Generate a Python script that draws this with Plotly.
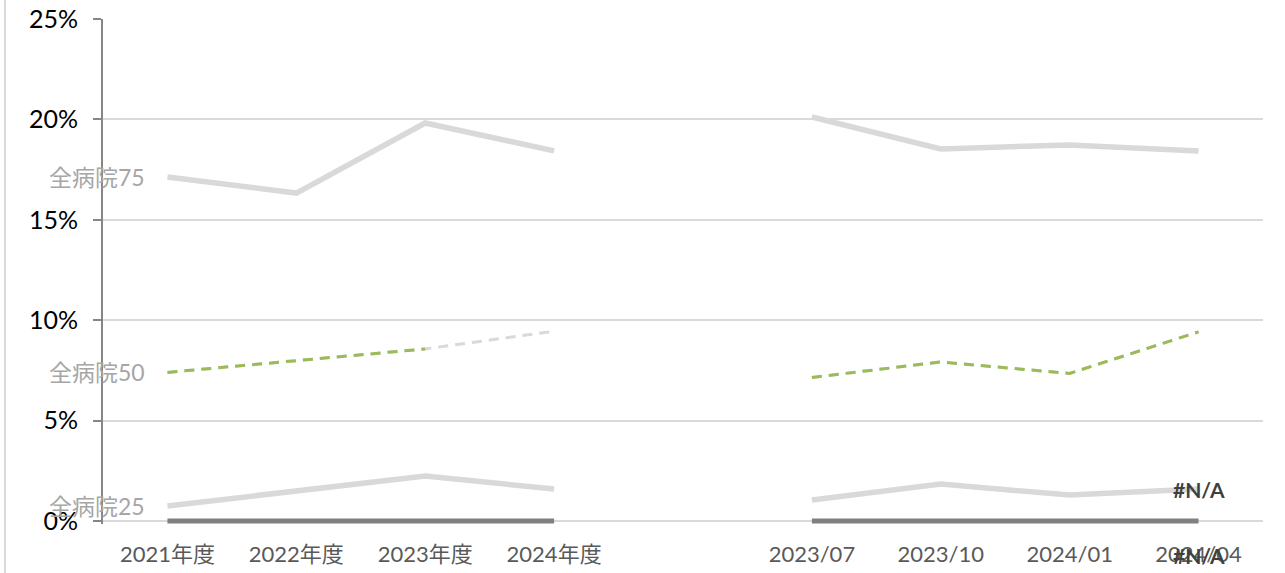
import plotly.graph_objects as go

categories = ["2021年度", "2022年度", "2023年度", "2024年度", " ", "2023/07", "2023/10", "2024/01", "2024/04"]
p75 = [17.13, 16.33, 19.82, 18.43, None, 20.12, 18.53, 18.73, 18.43]
p50 = [7.40, 7.97, 8.57, 9.45, None, 7.15, 7.92, 7.35, 9.42]
own = [7.40, 7.97, 8.57, None, None, 7.15, 7.92, 7.35, 9.42]
p25 = [0.75, 1.49, 2.24, 1.59, None, 1.05, 1.84, 1.29, 1.59]
zero = [0, 0, 0, 0, None, 0, 0, 0, 0]
yticks = [0, 5, 10, 15, 20, 25]
ytick_text = ["0%", "5%", "10%", "15%", "20%", "25%"]

FONT = "Lato, 'Noto Sans CJK JP', sans-serif"
GRID = "#d9d9d9"

fig = go.Figure()
fig.add_trace(go.Scatter(x=categories, y=p75, mode="lines", name="全病院75",
                         line=dict(color=GRID, width=5.5), connectgaps=False))
fig.add_trace(go.Scatter(x=categories, y=p25, mode="lines", name="全病院25",
                         line=dict(color=GRID, width=5.5), connectgaps=False))
fig.add_trace(go.Scatter(x=categories, y=p50, mode="lines", name="全病院50",
                         line=dict(color=GRID, width=3, dash="10px,7px"), connectgaps=False))
fig.add_trace(go.Scatter(x=categories, y=own, mode="lines", name="自院",
                         line=dict(color="#9bbb59", width=3, dash="10px,7px"), connectgaps=False))
fig.add_trace(go.Scatter(x=categories, y=zero, mode="lines", name="基準",
                         line=dict(color="#808080", width=5), connectgaps=False))

# series name labels at the first point
for name, vals in [("全病院75", p75), ("全病院50", p50), ("全病院25", p25)]:
    fig.add_annotation(x=categories[0], y=vals[0], xref="x", yref="y", text=name,
                       showarrow=False, xanchor="right", yanchor="middle", xshift=-20,
                       font=dict(family=FONT, size=23, color="#a6a6a6"))

# #N/A data labels
fig.add_annotation(x=categories[-1], y=p25[-1], xref="x", yref="y", text="<b>#N/A</b>",
                   showarrow=False, xanchor="center", yanchor="middle",
                   font=dict(family=FONT, size=21, color="#404040"))
fig.add_annotation(x=categories[-1], y=0, xref="x", yref="y", text="<b>#N/A</b>",
                   showarrow=False, xanchor="center", yanchor="middle", yshift=-35,
                   font=dict(family=FONT, size=21, color="#404040"))

# chart area left border
fig.add_shape(type="line", xref="paper", yref="paper", x0=-0.0845, x1=-0.0845, y0=-0.2, y1=1.1,
              line=dict(color=GRID, width=2))

fig.update_layout(
    width=1285, height=573,
    margin=dict(l=103, r=22, t=19, b=49, autoexpand=False),
    paper_bgcolor="white", plot_bgcolor="white",
    showlegend=False,
    font=dict(family=FONT),
)
fig.update_xaxes(type="category", categoryorder="array", categoryarray=categories,
                 range=[-0.5, 8.5], showgrid=False, showline=False, ticks="",
                 automargin=False, ticklabelstandoff=15,
                 tickfont=dict(family=FONT, size=22, color="#595959"), zeroline=False)
fig.update_yaxes(range=[-0.15, 25], tickvals=yticks, ticktext=ytick_text,
                 showgrid=True, gridcolor=GRID, gridwidth=2,
                 showline=True, linecolor="#868686", linewidth=2,
                 ticks="outside", ticklen=8, tickcolor="#868686", tickwidth=2,
                 automargin=False, ticklabelstandoff=10,
                 tickfont=dict(family=FONT, size=25, color="black"),
                 zeroline=True, zerolinecolor=GRID, zerolinewidth=2)

fig.write_html("out.html", config={"displayModeBar": False},
               post_script="document.body.style.margin='0';")
